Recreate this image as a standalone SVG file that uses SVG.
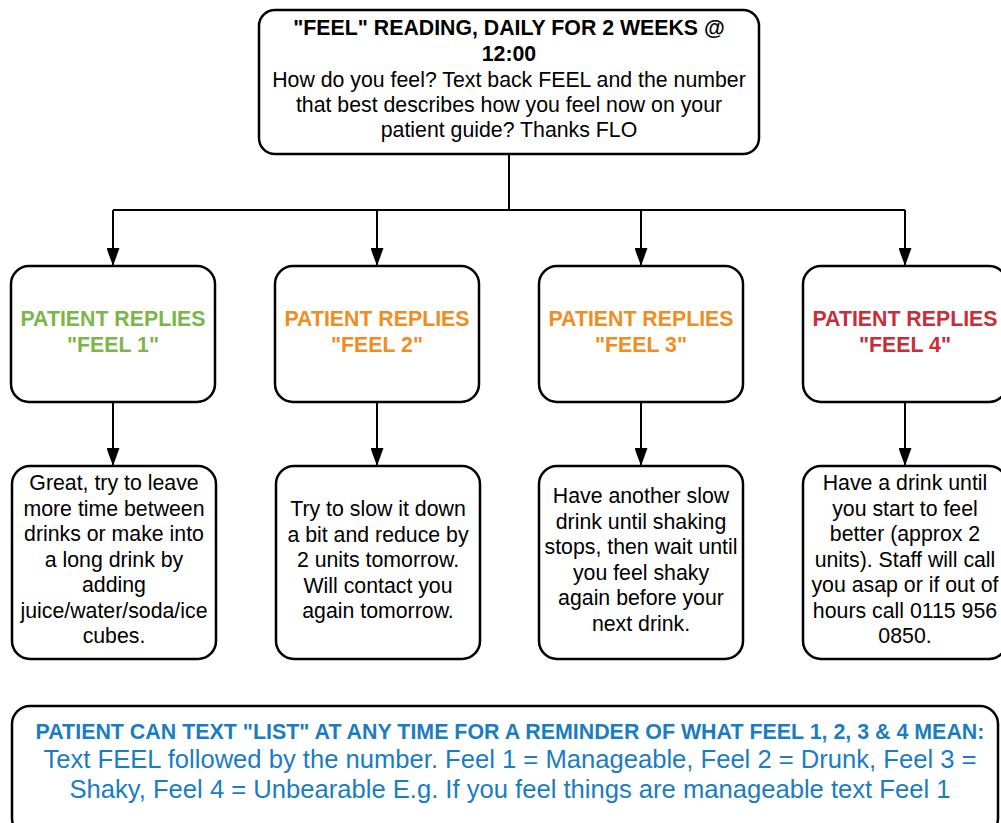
<svg xmlns="http://www.w3.org/2000/svg" width="1001" height="823" viewBox="0 0 1001 823">
<defs>
<style>
.box{fill:#fff;stroke:#000;stroke-width:2.5}
.t{font-family:"Liberation Sans",Arial,sans-serif;font-size:21.3px;fill:#000;text-anchor:middle}
.b{font-weight:bold}
.h{font-family:"Liberation Sans",Arial,sans-serif;font-size:21.3px;font-weight:bold;text-anchor:middle}
.g{fill:#7AB648}.o{fill:#EF8D22}.r{fill:#C92D39}
.blue{font-family:"Liberation Sans",Arial,sans-serif;fill:#1A7DC0;text-anchor:middle}
.ln{fill:none;stroke:#000;stroke-width:2}
</style>
<marker id="arrd" viewBox="0 0 18 13" refX="18" refY="6.5" markerWidth="18" markerHeight="13" markerUnits="userSpaceOnUse" orient="auto">
<path d="M0,0 L18,6.5 L0,13 z" fill="#000"/>
</marker>
</defs>
<rect width="1001" height="823" fill="#fff"/>
<g id="connectors">
<path class="ln" d="M509,154 V210"/>
<path class="ln" d="M113,210 H905"/>
<path class="ln" d="M113,210 V266" marker-end="url(#arrd)"/>
<path class="ln" d="M377,210 V266" marker-end="url(#arrd)"/>
<path class="ln" d="M641,210 V266" marker-end="url(#arrd)"/>
<path class="ln" d="M905,210 V266" marker-end="url(#arrd)"/>
<path class="ln" d="M113,402 V466" marker-end="url(#arrd)"/>
<path class="ln" d="M377,402 V466" marker-end="url(#arrd)"/>
<path class="ln" d="M641,402 V466" marker-end="url(#arrd)"/>
<path class="ln" d="M905,402 V466" marker-end="url(#arrd)"/>
</g>
<g id="top">
<rect class="box" x="259" y="10" width="500" height="144" rx="16"/>
<text class="t b" x="509" y="35">"FEEL" READING, DAILY FOR 2 WEEKS @</text>
<text class="t b" x="509" y="61">12:00</text>
<text class="t" x="509" y="87">How do you feel? Text back FEEL and the number</text>
<text class="t" x="509" y="112">that best describes how you feel now on your</text>
<text class="t" x="509" y="137">patient guide? Thanks FLO</text>
</g>
<g id="reply1">
<rect class="box" x="11" y="266" width="204" height="136" rx="18"/>
<text class="h g" x="113" y="326">PATIENT REPLIES</text>
<text class="h g" x="113" y="352">"FEEL 1"</text>
</g>
<g id="reply2">
<rect class="box" x="275" y="266" width="204" height="136" rx="18"/>
<text class="h o" x="377" y="326">PATIENT REPLIES</text>
<text class="h o" x="377" y="352">"FEEL 2"</text>
</g>
<g id="reply3">
<rect class="box" x="539" y="266" width="204" height="136" rx="18"/>
<text class="h o" x="641" y="326">PATIENT REPLIES</text>
<text class="h o" x="641" y="352">"FEEL 3"</text>
</g>
<g id="reply4">
<rect class="box" x="803" y="266" width="204" height="136" rx="18"/>
<text class="h r" x="905" y="326">PATIENT REPLIES</text>
<text class="h r" x="905" y="352">"FEEL 4"</text>
</g>
<g id="advice1">
<rect class="box" x="12" y="466" width="204" height="193" rx="18"/>
<text class="t" x="114" y="490">Great, try to leave</text>
<text class="t" x="114" y="515.5">more time between</text>
<text class="t" x="114" y="541">drinks or make into</text>
<text class="t" x="114" y="566.5">a long drink by</text>
<text class="t" x="114" y="592">adding</text>
<text class="t" x="114" y="617.5">juice/water/soda/ice</text>
<text class="t" x="114" y="643">cubes.</text>
</g>
<g id="advice2">
<rect class="box" x="276" y="466" width="204" height="193" rx="18"/>
<text class="t" x="378" y="516">Try to slow it down</text>
<text class="t" x="378" y="541.5">a bit and reduce by</text>
<text class="t" x="378" y="567">2 units tomorrow.</text>
<text class="t" x="378" y="592.5">Will contact you</text>
<text class="t" x="378" y="618">again tomorrow.</text>
</g>
<g id="advice3">
<rect class="box" x="539" y="466" width="204" height="193" rx="18"/>
<text class="t" x="641" y="503">Have another slow</text>
<text class="t" x="641" y="528.5">drink until shaking</text>
<text class="t" x="641" y="554">stops, then wait until</text>
<text class="t" x="641" y="579.5">you feel shaky</text>
<text class="t" x="641" y="605">again before your</text>
<text class="t" x="641" y="630.5">next drink.</text>
</g>
<g id="advice4">
<rect class="box" x="803" y="466" width="204" height="193" rx="18"/>
<text class="t" x="905" y="490">Have a drink until</text>
<text class="t" x="905" y="515.5">you start to feel</text>
<text class="t" x="905" y="541">better (approx 2</text>
<text class="t" x="905" y="566.5">units). Staff will call</text>
<text class="t" x="905" y="592">you asap or if out of</text>
<text class="t" x="905" y="617.5">hours call 0115 956</text>
<text class="t" x="905" y="643">0850.</text>
</g>
<g id="note">
<rect class="box" x="12" y="706" width="986" height="130" rx="18"/>
<text class="blue" x="510" y="739" font-size="21.4" font-weight="bold">PATIENT CAN TEXT "LIST" AT ANY TIME FOR A REMINDER OF WHAT FEEL 1, 2, 3 &amp; 4 MEAN:</text>
<text class="blue" x="510" y="768" font-size="25.6">Text FEEL followed by the number. Feel 1 = Manageable, Feel 2 = Drunk, Feel 3 =</text>
<text class="blue" x="510" y="798" font-size="25.6">Shaky, Feel 4 = Unbearable E.g. If you feel things are manageable text Feel 1</text>
</g>
</svg>
